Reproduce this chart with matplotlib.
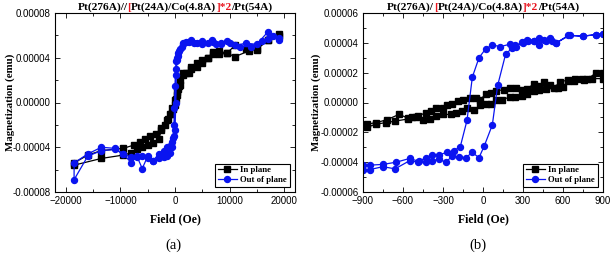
import matplotlib
matplotlib.use("Agg")
import matplotlib.pyplot as plt
from matplotlib.ticker import MultipleLocator, FormatStrFormatter

# (a) wide field sweep, Oe / emu*1e-5
a_in_h = [19000, 17000, 15000, 13500, 11000, 9500, 8000, 7000, 6000, 5000, 4000, 3000, 2000, 1500,
          1000, 700, 400, 200, 0, -300, -700, -1200, -1800, -2500, -3500, -4500, -5500, -6500,
          -7500, -9500, -13500, -16000, -18500,
          -18500, -13500, -9500, -8000, -7000, -6000, -5000, -4000, -3000, -2500, -1500, -1000,
          -500, 0, 300, 600, 1000, 1500, 2500, 3000, 4000, 5000, 6000, 7000, 8000, 9500, 11000,
          13000, 15000, 17000, 19000]
a_in_m = [6.1, 5.6, 4.8, 4.6, 4.1, 4.4, 4.3, 4.5, 4.0, 3.8, 3.5, 3.2, 2.6, 2.5,
          2.0, 1.5, 0.9, 0.3, -0.2, -0.6, -1.0, -1.5, -2.0, -2.3, -2.8, -3.0, -3.3, -3.5,
          -3.8, -4.1, -4.3, -4.7, -5.4,
          -5.6, -5.0, -4.7, -4.5, -4.2, -4.0, -3.8, -3.6, -3.3, -2.5, -1.6, -1.0,
          -0.5, 0.2, 0.7, 1.2, 1.6, 2.6, 2.6, 3.0, 3.2, 3.5, 4.0, 4.3, 4.6, 4.4, 5.1,
          4.8, 4.7, 5.6, 5.9]

a_out_h = [19000, 18000, 17000, 15000, 13000, 11000, 9500, 8500, 7500, 6800, 6000, 5000, 4000,
           3000, 2000, 1500, 1000, 600, 400, 200, 100, 0, -100, -200, -300, -600, -1000, -1500,
           -2000, -3000, -4000, -5000, -6000, -7000, -8000, -9500, -11000, -13500, -16000, -18500,
           -18500, -16000, -13500, -11000, -9500, -8000, -7000, -6000, -5000, -4000, -3000, -2000,
           -1500, -1000, -500, -200, 0, 150, 250, 350, 500, 800, 1200, 1500, 2500, 3500, 5000,
           7000, 8500, 10000, 12000, 14000, 16000, 17000, 19000]
a_out_m = [5.6, 5.9, 6.3, 5.2, 5.3, 5.1, 5.5, 5.2, 5.2, 5.6, 5.3, 5.5, 5.3,
           5.6, 5.4, 5.2, 4.8, 4.4, 4.0, 3.7, 3.0, 1.5, -0.5, -2.0, -3.2, -4.0, -4.5, -4.8,
           -4.9, -5.0, -5.2, -5.0, -4.8, -4.9, -4.9, -4.6, -4.1, -4.0, -4.6, -5.4,
           -6.9, -4.8, -4.3, -4.2, -4.6, -5.4, -4.8, -5.9, -4.8, -5.2, -4.6, -4.3,
           -4.0, -3.9, -3.5, -3.0, -2.5, 0.0, 2.5, 3.8, 4.2, 4.6, 5.0, 5.3, 5.4, 5.3, 5.2,
           5.4, 5.3, 5.3, 5.0, 5.0, 5.5, 5.7, 5.8]

# (b) narrow field sweep
b_in_h = [900, 850, 780, 740, 680, 640, 600, 560, 500, 460, 420, 380, 330, 290, 250, 200, 160,
          100, 60, 20, -20, -50, -100, -150, -190, -230, -270, -300, -350, -390, -430, -490,
          -530, -560, -630, -720, -800, -870,
          -870, -800, -730, -660, -560, -500, -450, -400, -350, -300, -240, -200, -160, -120,
          -70, -20, 20, 60, 100, 140, 200, 240, 290, 330, 380, 420, 470, 530, 580, 640, 690,
          760, 820, 900]
b_in_m = [1.95, 2.0, 1.55, 1.55, 1.45, 1.45, 1.05, 1.0, 1.15, 1.35, 1.1, 1.25, 0.9, 0.85, 0.95,
          1.0, 0.85, 0.8, 0.65, 0.55, 0.2, 0.3, 0.3, 0.2, 0.1, -0.1, -0.2, -0.4, -0.4, -0.6,
          -0.7, -0.9, -1.0, -1.05, -0.8, -1.15, -1.35, -1.45,
          -1.65, -1.45, -1.35, -1.25, -1.1, -1.0, -1.2, -1.1, -0.9, -0.8, -0.8, -0.7, -0.6,
          -0.35, -0.5, -0.2, -0.1, -0.1, 0.2, 0.2, 0.35, 0.4, 0.45, 0.6, 0.75, 0.85, 0.9,
          0.95, 1.4, 1.5, 1.55, 1.5, 1.6, 1.6]

b_out_h = [900, 850, 750, 640, 550, 500, 470, 420, 380, 330, 300, 240, 200, 130, 70, 20, -30,
           -80, -120, -170, -220, -270, -330, -380, -430, -480, -550, -650, -750, -850, -900,
           -900, -850, -750, -660, -550, -490, -430, -380, -330, -280, -230, -180, -130, -80,
           -30, 10, 70, 110, 170, 220, 250, 290, 340, 380, 420, 460, 500, 520, 550, 650, 750,
           850, 900]
b_out_m = [4.6, 4.55, 4.45, 4.5, 4.0, 4.35, 4.1, 4.3, 4.15, 4.2, 4.0, 3.85, 3.9, 3.75, 3.85,
           3.6, 3.0, 1.7, -1.2, -2.95, -3.25, -3.35, -3.5, -3.5, -3.7, -3.95, -3.75, -4.0,
           -4.15, -4.2, -4.2,
           -4.55, -4.5, -4.3, -4.45, -3.9, -4.0, -4.0, -3.9, -3.8, -4.0, -3.6, -3.65, -3.7,
           -3.35, -3.7, -2.9, -1.5, 1.15, 3.25, 3.65, 3.7, 4.05, 4.1, 4.15, 3.85, 4.2, 4.25,
           4.15, 4.0, 4.5, 4.45, 4.55, 4.6]

serif = "Liberation Serif"
sans = "Liberation Sans"

fig = plt.figure(figsize=(6.11, 2.65), dpi=100)
W, H = 611, 265
ax1 = fig.add_axes([55 / W, 1 - 192 / H, 240 / W, 179 / H])
ax2 = fig.add_axes([363 / W, 1 - 192 / H, 240 / W, 179 / H])


def draw(ax, h_in, m_in, h_out, m_out, xlim, ylim, xmaj, xmin, ymaj, ymin, ylab_x):
    ax.plot(h_in, [v * 1e-5 for v in m_in], "-s", color="black", ms=3.8, lw=0.9,
            label="In plane")
    ax.plot(h_out, [v * 1e-5 for v in m_out], "-o", color="#0a14f0", ms=4.3, lw=0.9,
            label="Out of plane")
    ax.set_xlim(*xlim)
    ax.set_ylim(*ylim)
    ax.xaxis.set_major_locator(MultipleLocator(xmaj))
    ax.xaxis.set_minor_locator(MultipleLocator(xmin))
    ax.yaxis.set_major_locator(MultipleLocator(ymaj))
    ax.yaxis.set_minor_locator(MultipleLocator(ymin))
    ax.yaxis.set_major_formatter(FormatStrFormatter("%.5f"))
    ax.tick_params(which="both", direction="in", top=True, right=True, width=0.6)
    ax.tick_params(which="major", length=3.5, labelsize=7, pad=3)
    ax.tick_params(which="minor", length=2)
    for lab in ax.get_xticklabels() + ax.get_yticklabels():
        lab.set_fontfamily(sans)
    for s in ax.spines.values():
        s.set_linewidth(0.8)
    ax.set_xlabel("Field (Oe)", fontfamily=serif, fontweight="bold", fontsize=8.5, labelpad=5)
    ax.set_ylabel("Magnetization (emu)", fontfamily=serif, fontweight="bold", fontsize=7.8)
    ax.yaxis.set_label_coords(ylab_x, 0.5)
    leg = ax.legend(loc="lower right", prop={"family": serif, "weight": "bold", "size": 6.3},
                    fancybox=False, edgecolor="black", framealpha=1, borderpad=0.3,
                    handlelength=2.2, handletextpad=0.4, labelspacing=0.2,
                    borderaxespad=0.6)
    leg.get_frame().set_linewidth(0.8)


draw(ax1, a_in_h, a_in_m, a_out_h, a_out_m, (-22000, 22000), (-8e-5, 8e-5),
     10000, 5000, 4e-5, 2e-5, -0.165)
draw(ax2, b_in_h, b_in_m, b_out_h, b_out_m, (-900, 900), (-6e-5, 6e-5),
     300, 150, 2e-5, 1e-5, -0.175)


def colored_title(cx, y, pieces):
    r = fig.canvas.get_renderer()
    texts = []
    for s, c in pieces:
        t = fig.text(0, y / H, s, color=c, fontfamily=serif, fontweight="bold", fontsize=8.2,
                     ha="left", va="baseline")
        texts.append(t)
    widths = [t.get_window_extent(r).width for t in texts]
    x = cx - sum(widths) / 2
    for t, w in zip(texts, widths):
        t.set_x(x / W)
        x += w


red = "#e8141e"
colored_title(175, H - 10, [("Pt(276A)//", "black"), ("[", red), ("Pt(24A)/Co(4.8A)", "black"),
                            ("]*2", red), ("/Pt(54A)", "black")])
colored_title(483, H - 10, [("Pt(276A)/", "black"), ("[", red), ("Pt(24A)/Co(4.8A)", "black"),
                            ("]*2", red), ("/Pt(54A)", "black")])

fig.text(173 / W, 1 - 245 / H, "(a)", fontfamily=serif, fontsize=10.5, ha="center", va="center")
fig.text(478 / W, 1 - 245 / H, "(b)", fontfamily=serif, fontsize=10.5, ha="center", va="center")

fig.savefig("out.png", dpi=100)
